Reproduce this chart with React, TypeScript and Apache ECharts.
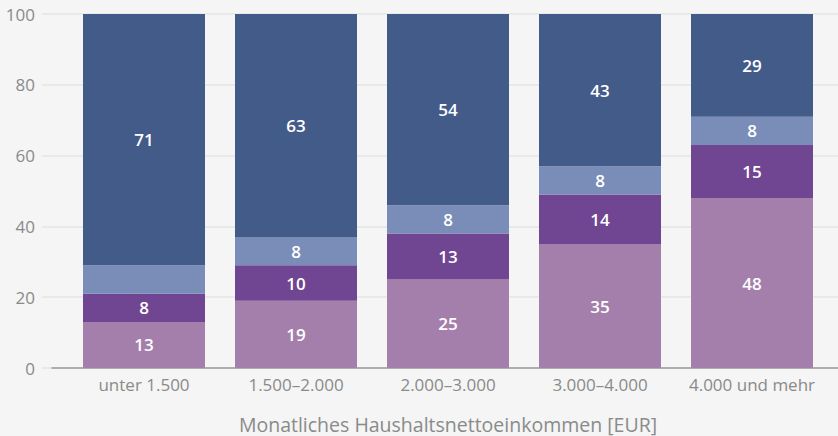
import React, { useEffect, useRef } from "react";
import * as echarts from "echarts";

const categories = ["unter 1.500", "1.500–2.000", "2.000–3.000", "3.000–4.000", "4.000 und mehr"];
const seriesBottom = [13, 19, 25, 35, 48];
const seriesSecond = [8, 10, 13, 14, 15];
const seriesThird = [8, 8, 8, 8, 8];
const seriesTop = [71, 63, 54, 43, 29];
const hiddenThirdLabel = [true, false, false, false, false];
const yTicks = [0, 20, 40, 60, 80, 100];
const xAxisTitle = "Monatliches Haushaltsnettoeinkommen [EUR]";

const FONT = "'Open Sans', 'Noto Sans', sans-serif";

export default function App() {
  const ref = useRef<HTMLDivElement>(null);
  useEffect(() => {
    if (!ref.current) return;
    const chart = echarts.init(ref.current, null, { renderer: "svg" });
    const labelStyle = {
      show: true,
      position: "inside",
      color: "#ffffff",
      fontSize: 17,
      fontWeight: 600,
      fontFamily: FONT,
    };
    const mk = (name: string, data: number[], color: string, hidden?: boolean[]) => ({
      name,
      type: "bar",
      stack: "total",
      xAxisIndex: 0,
      yAxisIndex: 0,
      barWidth: 122,
      itemStyle: { color },
      label: labelStyle,
      data: data.map((v, i) => (hidden && hidden[i] ? { value: v, label: { show: false } } : v)),
    });
    const common = { top: 14, bottom: 68, outerBoundsMode: "none", containLabel: false };
    chart.setOption({
      animation: false,
      backgroundColor: "#f4f5f4",
      grid: [
        { ...common, left: 68, right: 10 },
        { ...common, left: 42, right: 0 },
        { ...common, left: 52, right: 0 },
      ],
      xAxis: [
        {
          type: "category",
          gridIndex: 0,
          data: categories,
          axisLine: { show: false },
          axisTick: { show: false },
          axisLabel: { color: "#8a8a8a", fontSize: 17, fontFamily: FONT, margin: 8, interval: 0 },
          name: xAxisTitle,
          nameLocation: "middle",
          nameGap: 46,
          nameTextStyle: { color: "#8a8a8a", fontSize: 19.5, fontFamily: FONT },
        },
        { type: "category", gridIndex: 1, data: categories, show: false },
        {
          type: "category",
          gridIndex: 2,
          data: categories,
          axisLine: { show: true, lineStyle: { color: "#9a9a9a", width: 1.5 } },
          axisTick: { show: false },
          axisLabel: { show: false },
        },
      ],
      yAxis: [
        {
          type: "value",
          gridIndex: 0,
          min: yTicks[0],
          max: yTicks[yTicks.length - 1],
          interval: 20,
          splitLine: { show: false },
          axisLine: { show: false },
          axisTick: { show: false },
          axisLabel: { color: "#8a8a8a", fontSize: 17, fontFamily: FONT, margin: 33 },
        },
        {
          type: "value",
          gridIndex: 1,
          min: 0,
          max: 100,
          interval: 20,
          axisLabel: { show: false },
          axisLine: { show: false },
          axisTick: { show: false },
          splitLine: { show: true, lineStyle: { color: "#e4e6e4", width: 1.5 } },
        },
        {
          type: "value",
          gridIndex: 2,
          min: 0,
          max: 100,
          show: false,
          splitLine: { show: false },
        },
      ],
      series: [
        mk("s1", seriesBottom, "#a47fab"),
        mk("s2", seriesSecond, "#704591"),
        mk("s3", seriesThird, "#7a8db8", hiddenThirdLabel),
        mk("s4", seriesTop, "#435b89"),
      ],
    });
    return () => chart.dispose();
  }, []);
  return (
    <div
      ref={ref}
      style={{ position: "fixed", left: 0, top: 0, width: 838, height: 436, background: "#f4f5f4" }}
    />
  );
}
